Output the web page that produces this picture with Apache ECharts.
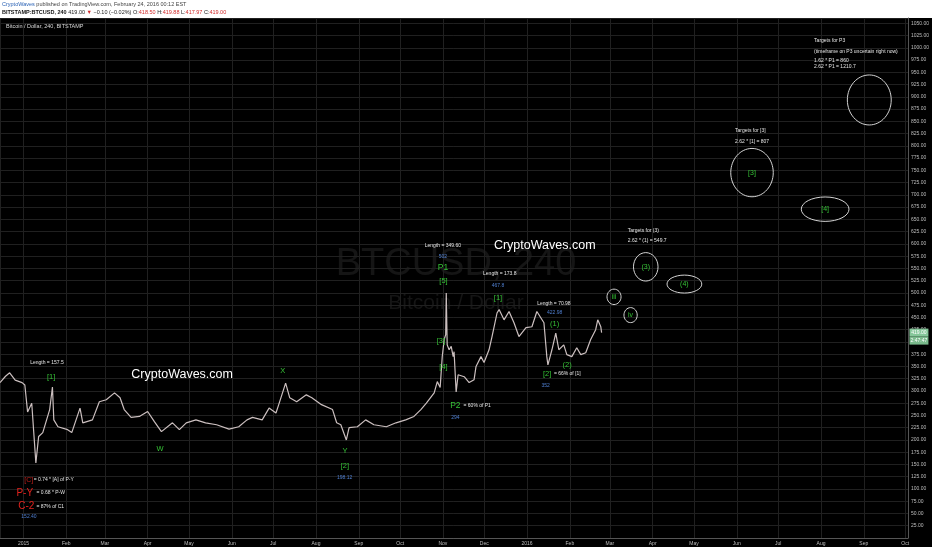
<!DOCTYPE html>
<html>
<head>
<meta charset="utf-8">
<script src="https://cdn.jsdelivr.net/npm/echarts@6/dist/echarts.min.js"></script>
<style>
  html, body { margin: 0; padding: 0; background: #fff; }
  #wrap { position: relative; width: 932px; height: 550px; }
  #bg { position: absolute; left: 0; top: 18px; width: 932px; height: 529px; background: #000; }
  #chart { position: absolute; left: 0; top: 0; width: 932px; height: 550px; }
</style>
</head>
<body>
<div id="wrap"><div id="bg"></div><div id="chart"></div></div>
<script>
// BTCUSD 4h, Bitstamp — elliott wave count with CryptoWaves notes
var DAY = 86400000;
var FONT = '"Liberation Sans", Arial, sans-serif';
var GREEN = '#35c235';
var BLUE = '#4f7fd0';
var WHITE = '#e4e4e4';
var RED = '#e3221d';

var monthNames = ['Jan', 'Feb', 'Mar', 'Apr', 'May', 'Jun', 'Jul', 'Aug', 'Sep', 'Oct', 'Nov', 'Dec'];

// price path
var priceDates = [
  '2014-12-15', '2014-12-19', '2014-12-22', '2014-12-26', '2014-12-31', '2015-01-02', '2015-01-04',
  '2015-01-07', '2015-01-10', '2015-01-12', '2015-01-15', '2015-01-20', '2015-01-22', '2015-01-23',
  '2015-01-26', '2015-02-02', '2015-02-05', '2015-02-11', '2015-02-13', '2015-02-20', '2015-02-25',
  '2015-03-02', '2015-03-08', '2015-03-12', '2015-03-15', '2015-03-20', '2015-03-26', '2015-04-01',
  '2015-04-06', '2015-04-11', '2015-04-19', '2015-04-24', '2015-04-29', '2015-05-06', '2015-05-13',
  '2015-05-21', '2015-05-30', '2015-06-06', '2015-06-12', '2015-06-16', '2015-06-23', '2015-06-28',
  '2015-07-03', '2015-07-05', '2015-07-10', '2015-07-13', '2015-07-18', '2015-07-20', '2015-07-23',
  '2015-07-25', '2015-07-29', '2015-08-05', '2015-08-13', '2015-08-16', '2015-08-19', '2015-08-23',
  '2015-08-25', '2015-08-31', '2015-09-06', '2015-09-12', '2015-09-21', '2015-09-28', '2015-10-05',
  '2015-10-11', '2015-10-16', '2015-10-20', '2015-10-25 16:00', '2015-10-27 22:00', '2015-10-30',
  '2015-10-31 12:00', '2015-11-01 22:00', '2015-11-03', '2015-11-03 10:00', '2015-11-04 02:00',
  '2015-11-05 12:00', '2015-11-07', '2015-11-08 10:00', '2015-11-09 02:00', '2015-11-10 14:00',
  '2015-11-12', '2015-11-16 10:00', '2015-11-20', '2015-11-23 14:00', '2015-11-25', '2015-11-28 14:00',
  '2015-11-30 19:00', '2015-12-04 10:00', '2015-12-06 14:00', '2015-12-10 05:00', '2015-12-11 17:00',
  '2015-12-15 07:00', '2015-12-18 22:00', '2015-12-22 12:00', '2015-12-26 02:00', '2015-12-31 05:00',
  '2016-01-04 12:00', '2016-01-08 02:00', '2016-01-13 05:00', '2016-01-15 07:00', '2016-01-16 02:00',
  '2016-01-19', '2016-01-21 19:00', '2016-01-24', '2016-01-27 14:00', '2016-01-29 19:00',
  '2016-02-02 10:00', '2016-02-06', '2016-02-08 22:00', '2016-02-12 12:00', '2016-02-16 02:00',
  '2016-02-19 17:00', '2016-02-21 05:00', '2016-02-23 10:00', '2016-02-24'
];
var priceValues = [
  317, 330, 337, 322, 317, 312, 257,
  275, 153, 207, 215, 262, 308, 241,
  227, 221, 215, 265, 235, 241, 278,
  282, 296, 286, 262, 246, 248, 258,
  237, 217, 235, 221, 235, 241, 235,
  231, 222, 227, 241, 246, 241, 265,
  255, 272, 316, 286, 278, 282, 288,
  292, 286, 272, 262, 235, 231, 200,
  225, 227, 241, 231, 227, 235, 241,
  248, 262, 275, 296, 319, 307,
  370, 405, 415, 500, 394,
  384, 391, 370, 380, 298,
  333, 329, 317, 323, 350, 370,
  358, 384, 411, 459, 466,
  445, 462, 439, 411, 429,
  431, 462, 439, 370, 353,
  384, 418, 384, 394, 374,
  370, 388, 374, 378, 405,
  425, 445, 431, 419
];
var lastDate = '2016-02-24';
var lastPrice = 419;
var countdown = '2:47:47';

// annotations: [date, price, text]
var waveLabels = [
  ['2015-01-21', 329.5, '[1]'], ['2015-04-10', 181.5, 'W'], ['2015-07-08', 341.7, 'X'],
  ['2015-08-22', 178.6, 'Y'], ['2015-08-22', 147.5, '[2]'], ['2015-11-01 10:00', 524, '[5]'],
  ['2015-10-30 12:00', 401, '[3]'], ['2015-11-01 10:00', 348.7, '[4]'], ['2015-12-10 22:00', 489, '[1]'],
  ['2016-01-21', 437, '(1)'], ['2016-01-15 12:00', 335, '[2]'], ['2016-01-30', 354, '(2)']
];
var primaryLabels = [['2015-11-01', 552.5, 'P1'], ['2015-11-10', 270.4, 'P2']];
var quoteLabels = [
  ['2015-01-05', 42.9, '152.40'], ['2015-08-21 17:00', 123, '198.12'], ['2015-11-01', 574, '502'],
  ['2015-11-10', 244.7, '294'], ['2015-12-10 22:00', 514.4, '467.8'], ['2016-01-21', 460, '422.98'],
  ['2016-01-14 10:00', 311, '352']
];
var lengthNotes = [
  ['2015-01-18', 356.8, 'Length = 157.5'], ['2015-11-01', 596, 'Length = 349.60'],
  ['2015-12-12 05:00', 539, 'Length = 173.8'], ['2016-01-20 10:00', 477.7, 'Length = 70.98']
];
var sideNotes = [
  ['2015-11-15 22:00', 270.4, '= 60% of P1'], ['2016-01-20 10:00', 335, '= 66% of [1]'],
  ['2015-01-08 10:00', 119, '= 0.74 * [A] of P-Y'], ['2015-01-10 10:00', 91.8, '= 0.68 * P-W'],
  ['2015-01-10 10:00', 64.5, '= 87% of C1'],
  ['2016-07-27', 1014.5, 'Targets for P3'], ['2016-07-27', 993, '(timeframe on P3 uncertain right now)'],
  ['2016-07-27', 973, '1.62 * P1 = 860'], ['2016-07-27', 961.5, '2.62 * P1 = 1210.7'],
  ['2016-05-30 17:00', 830.4, 'Targets for [3]'], ['2016-05-30 17:00', 808, '2.62 * [1] = 807'],
  ['2016-03-14', 628, 'Targets for (3)'], ['2016-03-14', 607, '2.62 * (1) = 549.7']
];
var ratioTags = [['2015-01-04 19:00', 119, '[C]']];
var ratioTagsBig = [['2015-01-01 22:00', 91.8, 'P-Y'], ['2015-01-03', 64.5, 'C-2']];
var brandLabels = [['2015-04-26', 334.4, 'CryptoWaves.com'], ['2016-01-13 19:00', 596, 'CryptoWaves.com']];

// target zones (ellipses): centre date, centre price, half width in days, half height in price
var targetNames = ['', '[3]', '[4]', '(3)', '(4)', 'iii', 'iv'];
var targetDates = ['2016-09-05', '2016-06-12', '2016-08-04', '2016-03-27', '2016-04-24', '2016-03-04', '2016-03-16'];
var targetPrices = [893.6, 745.4, 670.8, 553.2, 518, 492, 454.7];
var targetHalfDays = [15.9, 15.4, 17.3, 8.9, 12.6, 5.1, 4.8];
var targetHalfPrice = [51, 49.3, 24.9, 29, 18.3, 15.7, 15.3];

function textLayer(items, color, size, align, weight) {
  return {
    type: 'custom',
    silent: true,
    clip: false,
    z: 6,
    data: items.map(function (it) { return [it[0], it[1]]; }),
    renderItem: function (params, api) {
      var p = api.coord([api.value(0), api.value(1)]);
      return {
        type: 'text',
        x: p[0],
        y: p[1],
        style: {
          text: items[params.dataIndex][2],
          fill: color,
          fontSize: size,
          fontFamily: FONT,
          fontWeight: weight || 'normal',
          align: align || 'center',
          verticalAlign: 'middle'
        }
      };
    }
  };
}

var chart = echarts.init(document.getElementById('chart'));

chart.setOption({
  animation: false,
  backgroundColor: 'transparent',
  grid: { left: 0, right: 22, top: 18, bottom: 12 },
  xAxis: {
    type: 'time',
    min: '2014-12-15',
    max: '2016-10-03',
    minInterval: 28 * DAY,
    maxInterval: 31 * DAY,
    axisLine: { show: true, lineStyle: { color: '#555' } },
    axisTick: { show: false },
    axisLabel: {
      color: '#bdbdbd',
      fontSize: 5,
      fontFamily: FONT,
      margin: 3,
      showMinLabel: false,
      showMaxLabel: false,
      hideOverlap: false,
      formatter: function (val) {
        var d = new Date(val);
        return d.getMonth() === 0 ? String(d.getFullYear()) : monthNames[d.getMonth()];
      }
    },
    splitLine: { show: true, lineStyle: { color: '#202020', width: 1 } }
  },
  yAxis: {
    type: 'value',
    position: 'right',
    min: 0,
    max: 1060.8,
    interval: 25,
    axisLine: { show: true, lineStyle: { color: '#555' } },
    axisTick: { show: false },
    axisLabel: {
      color: '#bdbdbd',
      fontSize: 5,
      fontFamily: FONT,
      margin: 3,
      showMinLabel: false,
      showMaxLabel: false,
      formatter: function (v) { return v.toFixed(2); }
    },
    splitLine: { show: true, lineStyle: { color: '#202020', width: 1 } }
  },
  graphic: [
    { type: 'text', x: 456, y: 265, z: -1, silent: true,
      style: { text: 'BTCUSD, 240', fill: '#151515', fontSize: 38, fontFamily: FONT, align: 'center', verticalAlign: 'middle' } },
    { type: 'text', x: 456, y: 303, z: -1, silent: true,
      style: { text: 'Bitcoin / Dollar', fill: '#151515', fontSize: 21, fontFamily: FONT, align: 'center', verticalAlign: 'middle' } },
    { type: 'text', x: 2, y: 4.5, silent: true,
      style: {
        text: '{u|CryptoWaves} published on TradingView.com, February 24, 2016 00:12 EST',
        fill: '#444', fontSize: 5.5, fontFamily: FONT, verticalAlign: 'middle',
        rich: { u: { fill: '#2a62b5', fontSize: 5.5, fontFamily: FONT } }
      } },
    { type: 'text', x: 2, y: 12.5, silent: true,
      style: {
        text: '{k|BITSTAMP:BTCUSD, 240} 419.00 {r|\u25BC} \u22120.10 (\u22120.02%) O:{r|418.50} H:{r|419.88} L:{r|417.97} C:{r|419.00}',
        fill: '#222', fontSize: 5.5, fontFamily: FONT, verticalAlign: 'middle',
        rich: {
          k: { fill: '#111', fontSize: 5.5, fontWeight: 'bold', fontFamily: FONT },
          r: { fill: '#d02a2a', fontSize: 5.5, fontFamily: FONT }
        }
      } },
    { type: 'text', x: 6, y: 26, z: 100, silent: true,
      style: { text: 'Bitcoin / Dollar, 240, BITSTAMP', fill: '#d8d8d8', fontSize: 5.5, fontFamily: FONT, verticalAlign: 'middle' } }
  ],
  series: [
    {
      type: 'line',
      name: 'BTCUSD',
      showSymbol: false,
      silent: true,
      z: 3,
      data: priceDates.map(function (d, i) { return [d, priceValues[i]]; }),
      lineStyle: { color: '#cbbfbf', width: 1.2 }
    },
    // last price tag in the price scale
    {
      type: 'custom',
      silent: true,
      clip: false,
      z: 8,
      data: [[lastDate, lastPrice]],
      renderItem: function (params, api) {
        var p = api.coord([api.value(0), api.value(1)]);
        var x0 = params.coordSys.x + params.coordSys.width + 1.5;
        var w = 19;
        var h = 8;
        return {
          type: 'group',
          children: [
            { type: 'rect', shape: { x: x0, y: p[1] - h / 2, width: w, height: h }, style: { fill: '#86c79a' } },
            { type: 'text', x: x0 + w / 2, y: p[1],
              style: { text: api.value(1).toFixed(2), fill: '#fff', fontSize: 5, fontFamily: FONT, align: 'center', verticalAlign: 'middle' } },
            { type: 'rect', shape: { x: x0, y: p[1] + h / 2, width: w, height: h }, style: { fill: '#79b98b' } },
            { type: 'text', x: x0 + w / 2, y: p[1] + h,
              style: { text: countdown, fill: '#fff', fontSize: 5, fontFamily: FONT, align: 'center', verticalAlign: 'middle' } }
          ]
        };
      }
    },
    {
      type: 'custom',
      silent: true,
      clip: false,
      z: 5,
      data: targetDates.map(function (d, i) { return [d, targetPrices[i], targetHalfDays[i], targetHalfPrice[i]]; }),
      renderItem: function (params, api) {
        var c = api.coord([api.value(0), api.value(1)]);
        var s = api.size([api.value(2) * DAY, api.value(3)]);
        return {
          type: 'group',
          children: [
            { type: 'ellipse', shape: { cx: c[0], cy: c[1], rx: s[0], ry: s[1] },
              style: { fill: 'none', stroke: '#d4d4d4', lineWidth: 1 } },
            { type: 'text', x: c[0], y: c[1],
              style: { text: targetNames[params.dataIndex], fill: GREEN, fontSize: 7, fontFamily: FONT, align: 'center', verticalAlign: 'middle' } }
          ]
        };
      }
    },
    textLayer(waveLabels, GREEN, 7.5),
    textLayer(primaryLabels, GREEN, 8.5),
    textLayer(quoteLabels, BLUE, 5),
    textLayer(lengthNotes, WHITE, 5),
    textLayer(sideNotes, WHITE, 5, 'left'),
    textLayer(ratioTags, '#c0201c', 7),
    textLayer(ratioTagsBig, RED, 10),
    textLayer(brandLabels, '#ffffff', 12.5)
  ]
});
</script>
</body>
</html>
